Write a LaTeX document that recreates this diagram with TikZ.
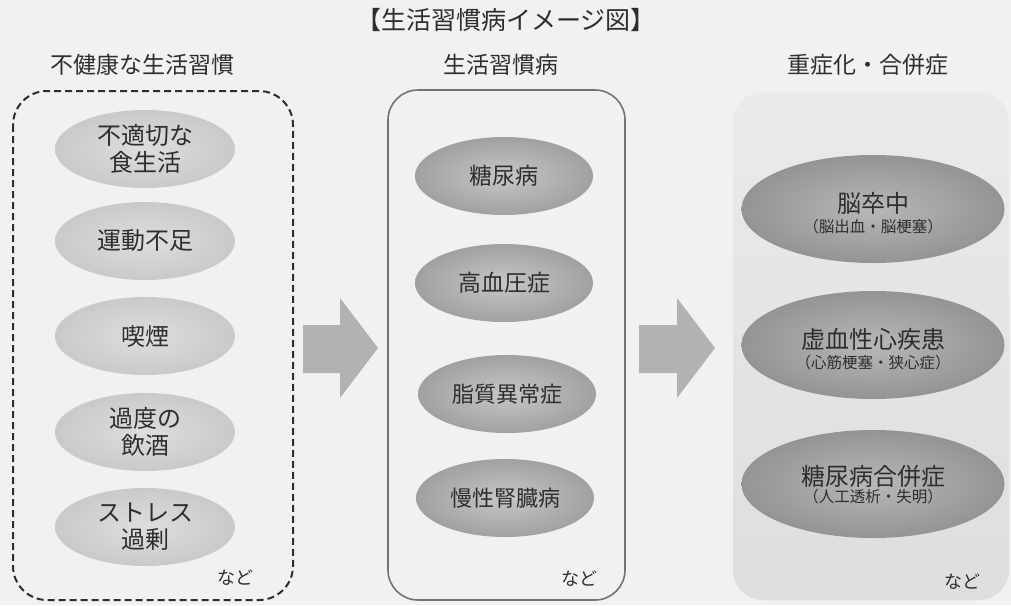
\documentclass[tikz,border=0pt]{standalone}
\usepackage{fontspec}
\newfontfamily\jp{Noto Sans CJK JP}
\usetikzlibrary{shapes.geometric,calc}
\definecolor{paper}{HTML}{F1F1EF}
\definecolor{ink}{HTML}{2E2E2E}
\definecolor{arrowgray}{HTML}{B2B2B2}
\begin{document}
\begin{tikzpicture}[x=1pt,y=-1pt,
  txt/.style={font=\jp\fontsize{#1}{27}\selectfont, text=ink, align=center, inner sep=0pt},
  txt/.default=24,
  ellL/.style={ellipse, minimum width=180pt, minimum height=78pt, inner sep=0pt,
    inner color=black!13, outer color=black!21},
  ellM/.style={ellipse, minimum width=178pt, minimum height=78pt, inner sep=0pt,
    inner color=black!22, outer color=black!37},
  ellR/.style={ellipse, minimum width=263pt, minimum height=108pt, inner sep=0pt,
    inner color=black!28, outer color=black!42},
  blockarrow/.style={fill=arrowgray, draw=none}
]
\useasboundingbox (0,0) rectangle (1011,605);
\fill[paper] (0,0) rectangle (1011,605);

% title and headers
\node[txt=25] (title) at (506,20) {【生活習慣病イメージ図】};
\node[txt=23] (h1) at (142,65) {不健康な生活習慣};
\node[txt=23] (h2) at (501,65) {生活習慣病};
\node[txt=23] (h3) at (868,65) {重症化・合併症};

% boxes
\draw[ink, line width=2pt, dash pattern=on 7pt off 4pt, rounded corners=34pt]
  (13,91) rectangle (293,600);
\draw[black!55, line width=1.6pt, rounded corners=30pt] (388,90) rectangle (625,600);
\shade[top color=black!8, bottom color=black!13, rounded corners=30pt] (733,92) rectangle (1009,600);

% left column
\node[ellL] (l1) at (145,149) {};
\node[txt] at (l1) {不適切な\\食生活};
\node[ellL] (l2) at (145,241) {};
\node[txt] at (l2) {運動不足};
\node[ellL] (l3) at (145,336) {};
\node[txt] at (l3) {喫煙};
\node[ellL] (l4) at (145,432) {};
\node[txt] at (l4) {過度の\\飲酒};
\node[ellL] (l5) at (145,527) {};
\node[txt] at (l5) {ストレス\\過剰};
\node[txt=18] (n1) at (235,578) {など};

% middle column
\node[ellM] (m1) at (504,176) {};
\node[txt=23] at (m1) {糖尿病};
\node[ellM] (m2) at (504,283) {};
\node[txt=23] at (m2) {高血圧症};
\node[ellM] (m3) at (507,394) {};
\node[txt=22] at (m3) {脂質異常症};
\node[ellM] (m4) at (505,498) {};
\node[txt=22] at (m4) {慢性腎臓病};
\node[txt=18] (n2) at (579,579) {など};

% right column
\node[ellR] (r1) at (873,209) {};
\node[txt=24] at ($(r1)+(0,-6)$) {脳卒中};
\node[txt=15.5] at ($(r1)+(0,18)$) {（脳出血・脳梗塞）};
\node[ellR] (r2) at (873,345) {};
\node[txt=24] at ($(r2)+(0,-6)$) {虚血性心疾患};
\node[txt=15.5] at ($(r2)+(0,18)$) {（心筋梗塞・狭心症）};
\node[ellR] (r3) at (873,484) {};
\node[txt=24] at ($(r3)+(0,-8)$) {糖尿病合併症};
\node[txt=15.5] at ($(r3)+(0,13)$) {（人工透析・失明）};
\node[txt=18] (n3) at (962,582) {など};

% block arrows
\fill[blockarrow] (303,325) -- (340,325) -- (340,298) -- (378,348) -- (340,398) -- (340,373) -- (303,373) -- cycle;
\fill[blockarrow] (639,325) -- (677,325) -- (677,298) -- (715,348) -- (677,398) -- (677,373) -- (639,373) -- cycle;
\end{tikzpicture}
\end{document}
